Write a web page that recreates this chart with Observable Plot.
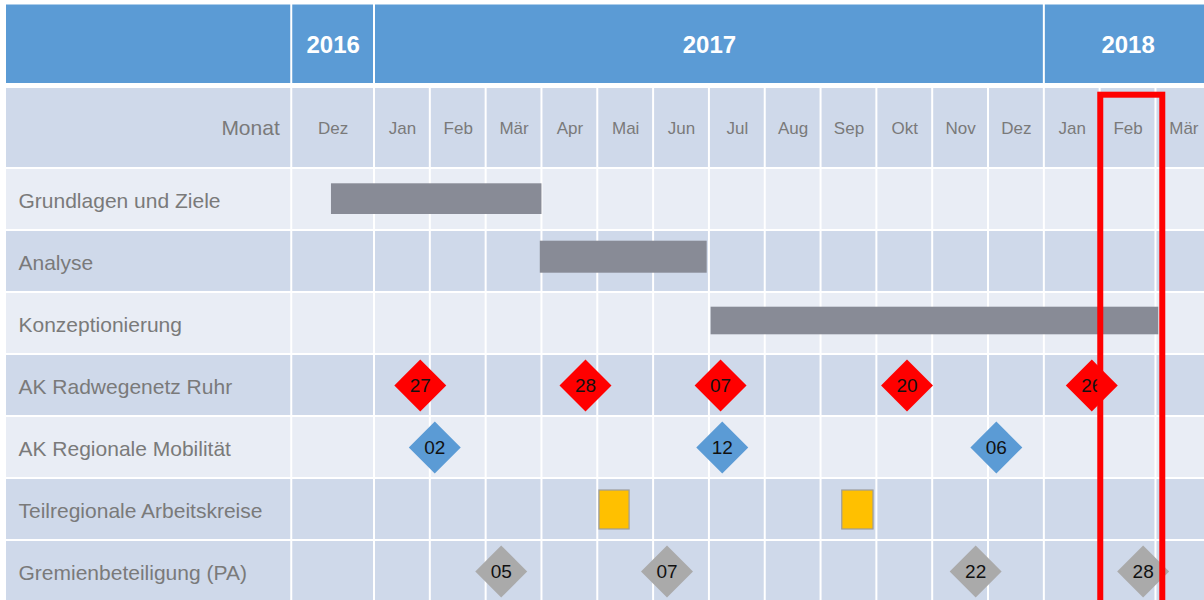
<!DOCTYPE html>
<html>
<head>
<meta charset="utf-8">
<script src="https://cdn.jsdelivr.net/npm/d3@7"></script>
<script src="https://cdn.jsdelivr.net/npm/@observablehq/plot@0.6"></script>
<style>
  html, body { margin: 0; padding: 0; background: #fff; overflow: hidden; }
  #chart svg { overflow: hidden; }
</style>
</head>
<body>
<div id="chart"></div>
<script>
// ---------- data (x values are months since Jan 2017; Dez 2016 = -1) ----------
const years = ["2016", "2017", "2018"];
const yearStart = [-1, 0, 12];
const yearEnd = [0, 12, 15];

const monthLabels = ["Dez", "Jan", "Feb", "Mär", "Apr", "Mai", "Jun", "Jul", "Aug", "Sep", "Okt", "Nov", "Dez", "Jan", "Feb", "Mär"];
const monthIndex = [-1, 0, 1, 2, 3, 4, 5, 6, 7, 8, 9, 10, 11, 12, 13, 14];

const headerLabel = "Monat";
const tasks = ["Grundlagen und Ziele", "Analyse", "Konzeptionierung", "AK Radwegenetz Ruhr", "AK Regionale Mobilität", "Teilregionale Arbeitskreise", "Gremienbeteiligung (PA)"];

// phases (gray bars)
const phaseTask = ["Grundlagen und Ziele", "Analyse", "Konzeptionierung"];
const phaseStart = [-0.52, 2.97, 6.03];
const phaseEnd = [3.00, 5.96, 14.05];

// milestones
const radwegPos = [0.82, 3.78, 6.20, 9.54, 12.85];
const radwegDay = ["27", "28", "07", "20", "26"];
const regionalPos = [1.08, 6.23, 11.14];
const regionalDay = ["02", "12", "06"];
const gremienPos = [2.27, 5.24, 10.77, 13.77];
const gremienDay = ["05", "07", "22", "28"];

// Teilregionale Arbeitskreise (yellow blocks)
const teilStart = [4.03, 8.38];
const teilEnd = [4.57, 8.94];

// highlighted current month (Feb 2018)
const highlightMonth = [13];

// ---------- layout / style ----------
const C = {
  header: "#5B9BD5",
  dark: "#CFD9EA",
  light: "#E9EDF5",
  text: "#7A7A7A",
  bar: "#888B96",
  red: "#FF0000",
  blue: "#5B9BD5",
  gray: "#AAAAAA",
  yellow: "#FFC000"
};
const taskShade = [C.light, C.dark, C.light, C.dark, C.light, C.dark, C.dark];
const rowOf = (task) => 2 + tasks.indexOf(task);

// column definitions (label column = [-2,-1])
const columns = [{x1: -2, x2: -1}].concat(monthIndex.map(m => ({x1: m, x2: m + 1})));

const yearCells = [{x1: -2, x2: -1, label: ""}].concat(years.map((y, i) => ({x1: yearStart[i], x2: yearEnd[i], label: y})));
const monthCells = columns.map(c => ({...c, row: 1}));
const taskCells = tasks.flatMap((t, i) => columns.map(c => ({...c, row: 2 + i, fill: taskShade[i]})));

const monthText = monthLabels.map((m, i) => ({x: monthIndex[i] + 0.5, label: m}));
const taskText = tasks.map((t, i) => ({row: 2 + i, label: t}));

const phases = phaseTask.map((t, i) => ({row: rowOf(t), x1: phaseStart[i], x2: phaseEnd[i]}));
const barInsets = [[15.3, 16], [10.7, 19.3], [14.7, 19.7]];

const milestones = [
  ...radwegPos.map((p, i) => ({x: p, row: rowOf("AK Radwegenetz Ruhr"), label: radwegDay[i], fill: C.red})),
  ...regionalPos.map((p, i) => ({x: p, row: rowOf("AK Regionale Mobilität"), label: regionalDay[i], fill: C.blue})),
  ...gremienPos.map((p, i) => ({x: p, row: rowOf("Gremienbeteiligung (PA)"), label: gremienDay[i], fill: C.gray}))
];
const teil = teilStart.map((s, i) => ({x1: s, x2: teilEnd[i], row: rowOf("Teilregionale Arbeitskreise")}));

const font = "'Liberation Sans', Arial, Helvetica, sans-serif";

const chart = Plot.plot({
  width: 1204,
  height: 600,
  margin: 0,
  style: {fontFamily: font, background: "#fff", overflow: "hidden"},
  x: {type: "linear", domain: [-2, -1, 0, 15], range: [5, 291.25, 374, 1211.3], axis: null},
  y: {type: "linear", domain: [0, 1, 2, 9], range: [3.5, 85.5, 168, 602], axis: null},
  marks: [
    // year header
    Plot.rect(yearCells, {x1: "x1", x2: "x2", y1: () => 0, y2: () => 1, fill: C.header,
      insetLeft: 1, insetRight: 1, insetTop: 1, insetBottom: 2.5}),
    Plot.text(yearCells, {x: d => (d.x1 + d.x2) / 2, y: () => 0.5, text: "label",
      fill: "#fff", fontSize: 24, fontWeight: "bold"}),
    // month header
    Plot.rect(monthCells, {x1: "x1", x2: "x2", y1: () => 1, y2: () => 2, fill: C.dark,
      insetLeft: 1, insetRight: 1, insetTop: 2.5, insetBottom: 1}),
    Plot.text([headerLabel], {x: () => -1, y: () => 1.5, text: d => d, textAnchor: "end", dx: -12, dy: 1,
      fill: C.text, fontSize: 21}),
    Plot.text(monthText, {x: "x", y: () => 1.5, text: "label", fill: C.text, fontSize: 17, dy: 1}),
    // task rows
    Plot.rect(taskCells, {x1: "x1", x2: "x2", y1: "row", y2: d => d.row + 1, fill: "fill", inset: 1}),
    Plot.text(taskText, {x: () => -2, y: d => d.row + 0.5, text: "label", textAnchor: "start", dx: 13, dy: 2,
      fill: C.text, fontSize: 21}),
    // phase bars
    ...phases.map((p, i) => Plot.rect([p], {x1: "x1", x2: "x2", y1: "row", y2: d => d.row + 1, fill: C.bar,
      insetTop: barInsets[i][0], insetBottom: barInsets[i][1]})),
    // yellow blocks
    Plot.rect(teil, {x1: "x1", x2: "x2", y1: "row", y2: d => d.row + 1, fill: C.yellow,
      stroke: "#9C9C9C", strokeWidth: 1.2, insetTop: 12, insetBottom: 11}),
    // milestones
    Plot.dot(milestones, {x: "x", y: d => d.row + 0.5, symbol: "diamond2", r: 23.4, fill: "fill", stroke: "none"}),
    Plot.text(milestones, {x: "x", y: d => d.row + 0.5, text: "label", fill: "#111", fontSize: 19}),
    // highlight
    Plot.rect(highlightMonth, {x1: d => d, x2: d => d + 1, y1: () => 1, y2: () => 9, fill: "none",
      stroke: C.red, strokeWidth: 6, insetLeft: 0.6, insetRight: -6.8, insetTop: 9.2, insetBottom: -10})
  ]
});
document.getElementById("chart").appendChild(chart);
</script>
</body>
</html>
